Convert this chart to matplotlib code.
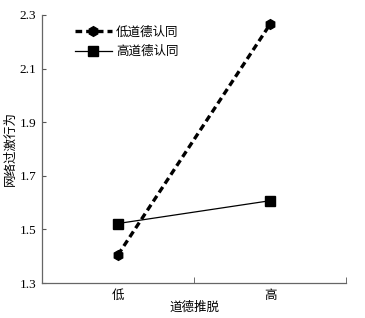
import matplotlib.pyplot as plt

plt.rcParams['font.family'] = ['Liberation Serif', 'Noto Sans CJK SC']

categories = ['低', '高']
low_identity = [1.405, 2.265]   # 低道德认同
high_identity = [1.522, 1.607]  # 高道德认同
yticks = [1.3, 1.5, 1.7, 1.9, 2.1, 2.3]

fig = plt.figure(figsize=(3.65, 3.18), dpi=100)
ax = fig.add_axes([0.115, 0.110, 0.833, 0.843])

x = [0, 1]
ax.plot(x, low_identity, color='black', linestyle=(0, (2.0, 1.2)), linewidth=2.4,
        marker='h', markersize=7, label='低道德认同')
ax.plot(x, high_identity, color='black', linestyle='-', linewidth=0.9,
        marker='s', markersize=7.5, label='高道德认同')

ax.set_xlim(-0.5, 1.5)
ax.set_ylim(1.3, 2.3)
ax.set_yticks(yticks)
ax.set_yticklabels(['%.1f' % v for v in yticks], fontsize=9.5)
ax.set_xticks(x)
ax.set_xticklabels(categories, fontsize=9)
ax.tick_params(axis='x', length=0, pad=5)
ax.set_xticks([0.5, 1.5], minor=True)
ax.tick_params(axis='x', which='minor', direction='in', length=4, color='#555555')
ax.tick_params(axis='y', direction='in', length=3, color='#555555', pad=4)

for side in ['top', 'right']:
    ax.spines[side].set_visible(False)
for side in ['left', 'bottom']:
    ax.spines[side].set_color('#666666')
    ax.spines[side].set_linewidth(0.9)

ax.set_xlabel('道德推脱', fontsize=9, labelpad=0)
ax.set_ylabel('网络过激行为', fontsize=9, labelpad=2)

ax.legend(loc='upper left', bbox_to_anchor=(0.07, 1.0), frameon=False, fontsize=9,
          handlelength=3.0, handletextpad=0.3, labelspacing=0.6)

plt.savefig('out.png', dpi=100)
